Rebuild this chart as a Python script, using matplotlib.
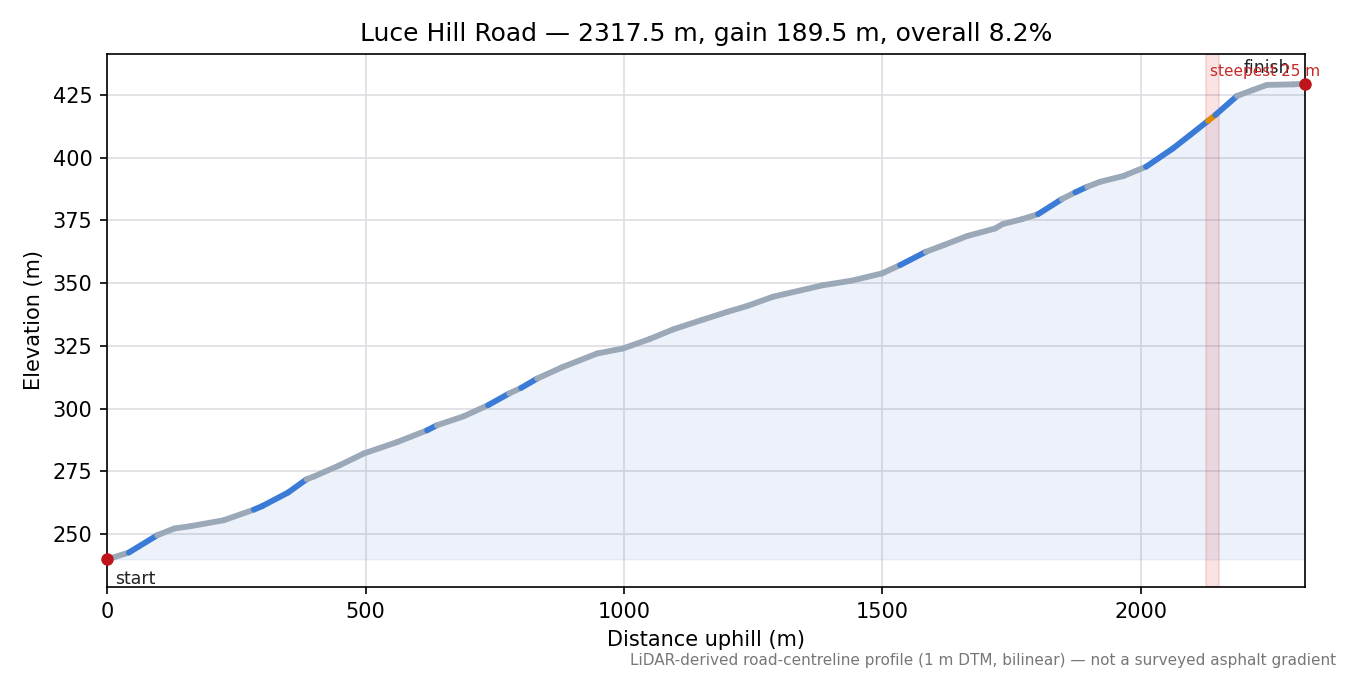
import numpy as np
import matplotlib
matplotlib.use("Agg")
import matplotlib.pyplot as plt
from matplotlib.collections import LineCollection

# profile: distance uphill (m) and elevation (m)
distance = [0, 42, 97, 130, 161, 226, 284, 300, 350, 386, 400, 450, 497, 561,
            619, 638, 690, 737, 778, 801, 832, 880, 948, 998, 1050, 1095, 1150,
            1200, 1238, 1288, 1385, 1440, 1499, 1534, 1584, 1620, 1664, 1718,
            1733, 1770, 1801, 1847, 1873, 1896, 1921, 1966, 2010, 2062, 2095,
            2130, 2144, 2186, 2217, 2244, 2294, 2317.5]
elevation = [240.0, 242.7, 249.6, 252.3, 253.2, 255.6, 259.8, 261.2, 266.6,
             271.9, 273.0, 277.5, 282.2, 286.7, 291.4, 293.4, 297.0, 301.4,
             306.1, 308.3, 312.0, 316.5, 322.0, 324.0, 327.8, 331.6, 335.3,
             338.6, 340.9, 344.6, 349.2, 351.0, 353.9, 357.2, 362.5, 365.3,
             368.8, 371.8, 373.6, 375.5, 377.5, 383.5, 386.2, 388.4, 390.4,
             392.7, 396.4, 403.7, 409.0, 414.7, 417.0, 424.6, 427.0, 429.0,
             429.2, 429.5]

# gradient classes along the road (band edges in m)
band_edges = [0, 42, 97, 284, 386, 619, 638, 737, 778, 801, 832, 1534, 1584,
              1801, 1847, 1873, 1896, 2010, 2130, 2144, 2186, 2317.5]
band_class = ["easy", "steep", "easy", "steep", "easy", "steep", "easy",
              "steep", "easy", "steep", "easy", "steep", "easy", "steep",
              "easy", "steep", "easy", "steep", "max", "steep", "easy"]

steepest_start = 2126
steepest_len = 25

class_colors = {"easy": "#9aa8b8", "steep": "#3b7bd8", "max": "#e08a00"}

dist = np.array(distance)
elev = np.array(elevation)

fig = plt.figure(figsize=(9, 4.5), dpi=150)
ax = fig.add_axes([0.0793, 0.1304, 0.8874, 0.7896])

ax.fill_between(dist, elev.min(), elev, color="#4a7fd0", alpha=0.1, lw=0.6)

points = np.column_stack([dist, elev])
segments = np.stack([points[:-1], points[1:]], axis=1)
mids = (dist[:-1] + dist[1:]) / 2
idx = np.clip(np.searchsorted(band_edges, mids) - 1, 0, len(band_class) - 1)
seg_colors = [class_colors[band_class[i]] for i in idx]
lc = LineCollection(segments, colors=seg_colors, linewidths=2.8,
                    capstyle="round", joinstyle="round", zorder=3)
ax.add_collection(lc)

ax.axvspan(steepest_start, steepest_start + steepest_len, color="#d62728",
           alpha=0.13, zorder=1)
ax.text(steepest_start + 7, 434.5, "steepest 25 m", color="#c62828",
        fontsize=7.3, ha="left", va="center", zorder=5)

ax.plot([dist[0], dist[-1]], [elev[0], elev[-1]], "o", color="#c0141c",
        ms=5, zorder=6, clip_on=False)
ax.annotate("start", (dist[0], elev[0]), xytext=(4, -5),
            textcoords="offset points", fontsize=8.3, color="#222222",
            ha="left", va="top")
ax.annotate("finish", (dist[-1], elev[-1]), xytext=(-7, 3),
            textcoords="offset points", fontsize=8.3, color="#222222",
            ha="right", va="bottom")

ax.set_xlim(0, dist[-1])
ax.set_ylim(229, 441.3)
ax.grid(True, color="#dddde3", lw=0.8, zorder=0)
ax.set_axisbelow(True)

gain = elev[-1] - elev[0]
ax.set_title(f"Luce Hill Road \u2014 {dist[-1]:.1f} m, gain {gain:.1f} m, "
             f"overall {gain / dist[-1] * 100:.1f}%")
ax.set_xlabel("Distance uphill (m)")
ax.set_ylabel("Elevation (m)")

fig.text(0.99, 0.022,
         "LiDAR-derived road-centreline profile (1 m DTM, bilinear) \u2014 "
         "not a surveyed asphalt gradient",
         ha="right", va="center", fontsize=7.3, color="#777777")

fig.savefig("out.png", dpi=150)
